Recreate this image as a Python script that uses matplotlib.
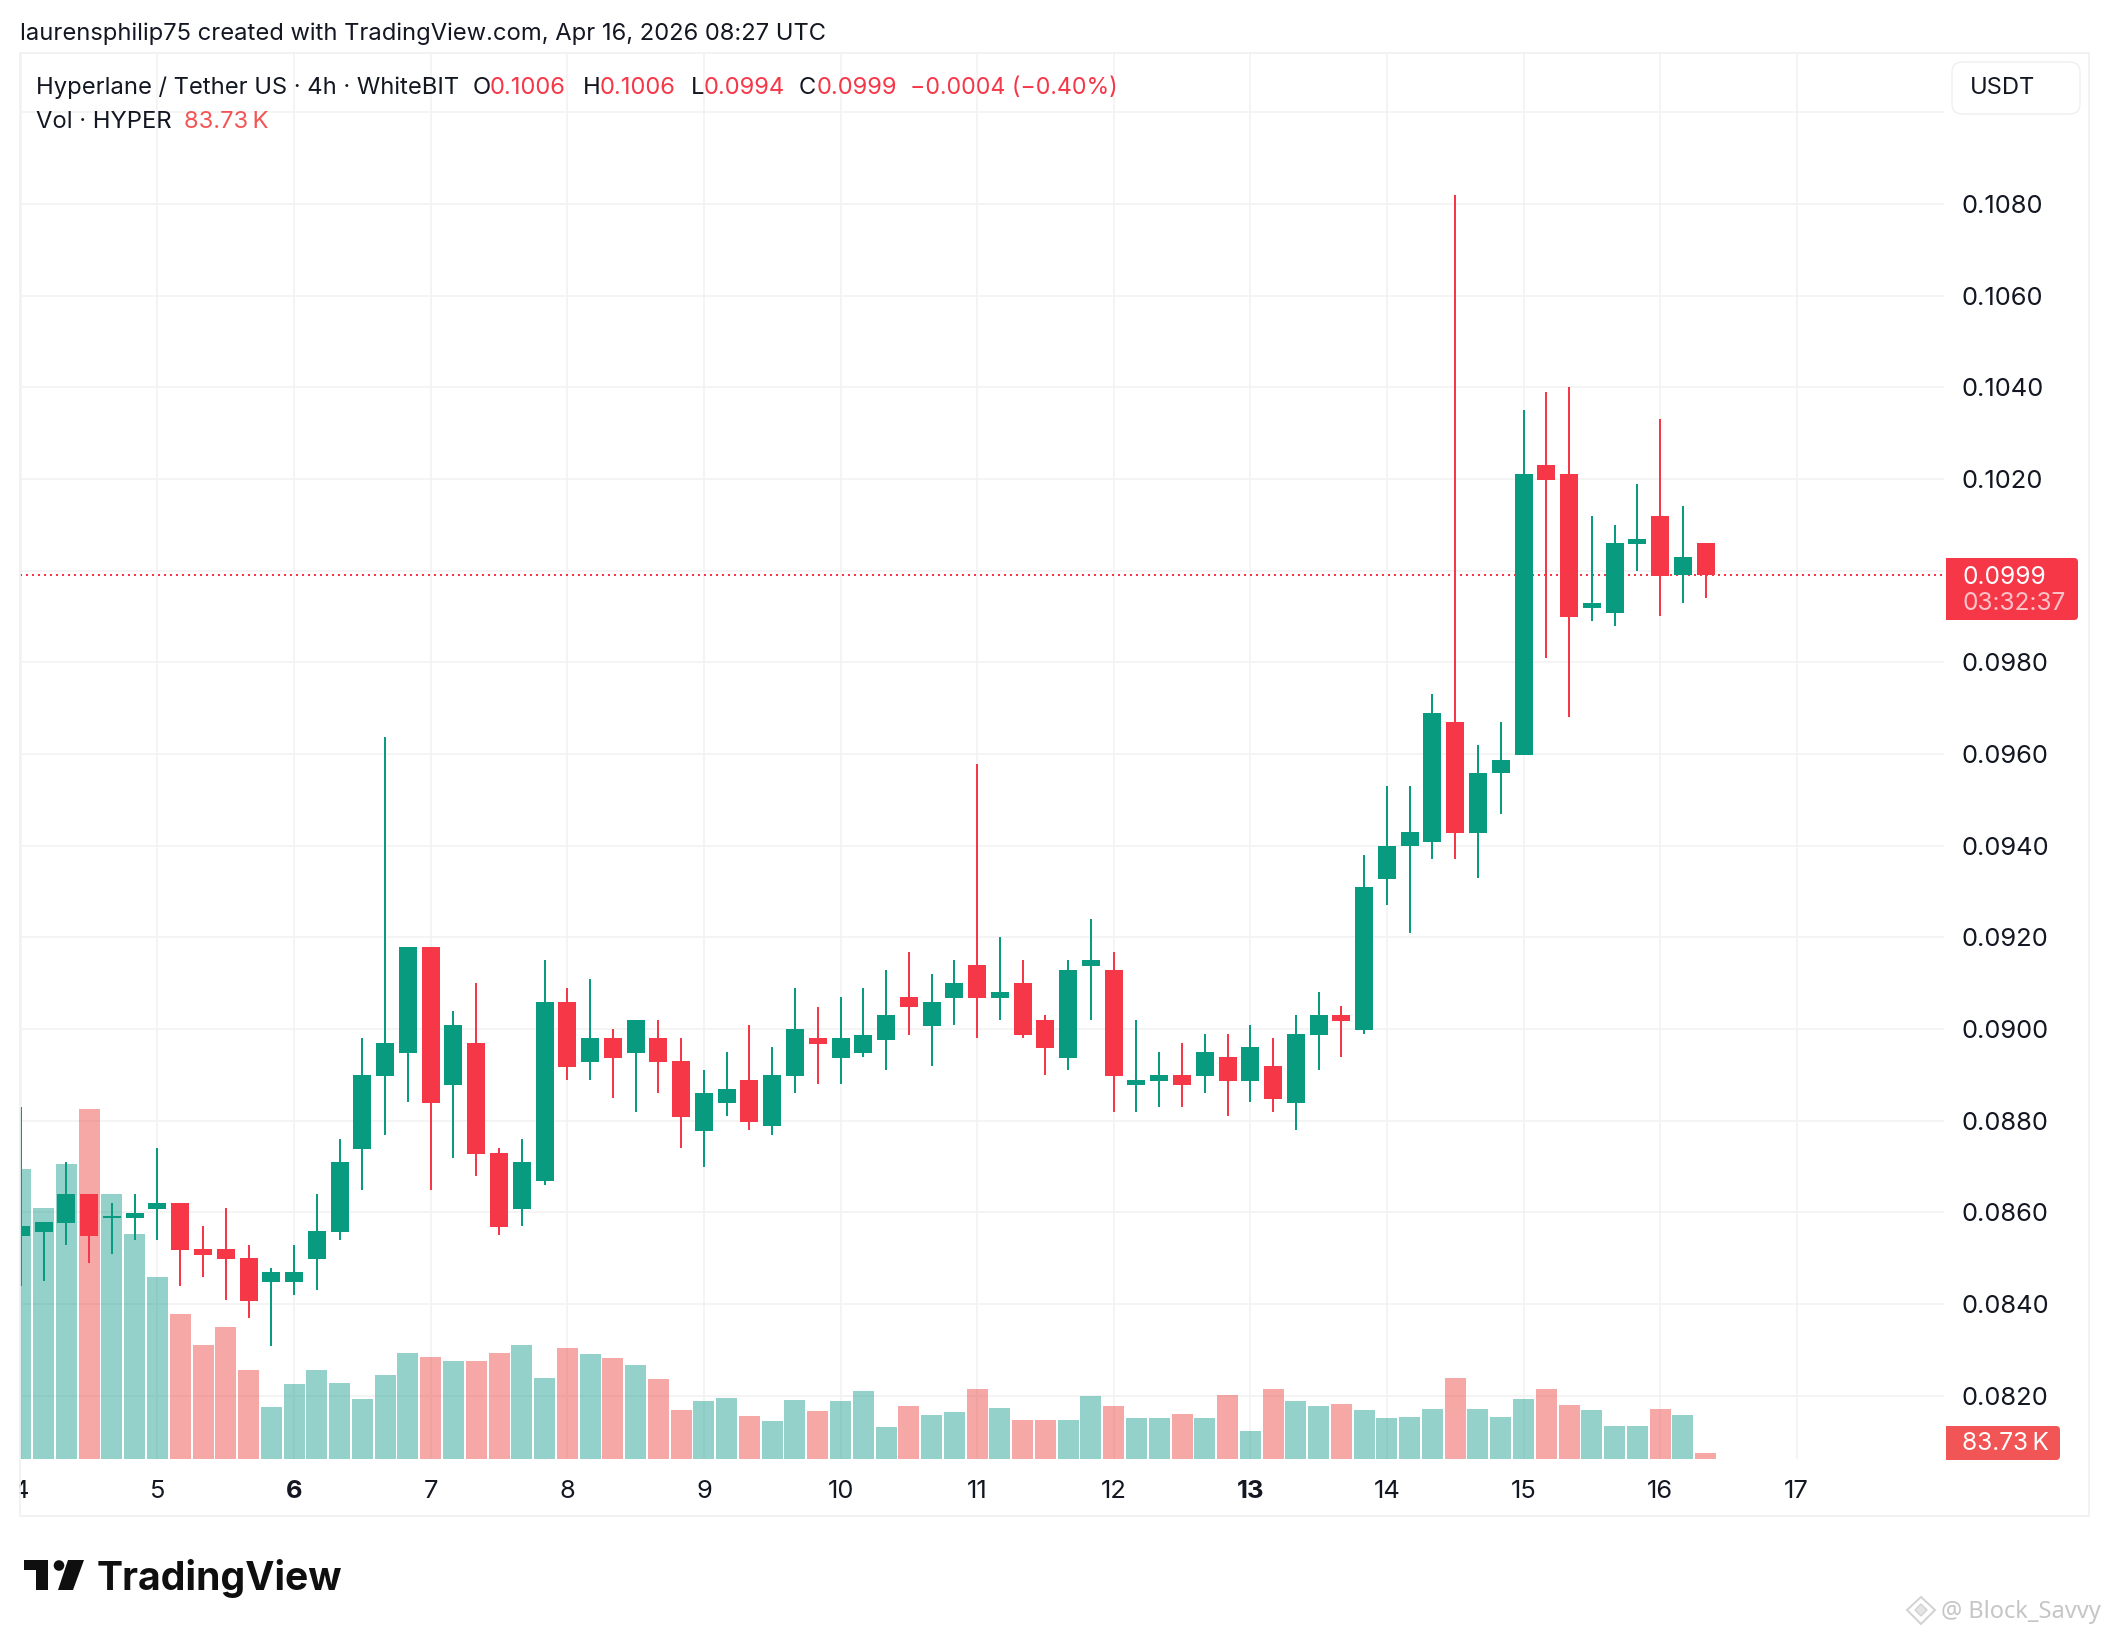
import matplotlib
matplotlib.use("Agg")
import matplotlib.pyplot as plt
from matplotlib.patches import FancyBboxPatch, Rectangle, Polygon, Circle

W, H = 2108, 1636
plt.rcParams['font.family'] = ['Inter', 'DejaVu Sans']

opens = [.08549,.08557,.08577,.0864,.08588,.08588,.08607,.0862,.0852,.0852,.0850,.08448,.08448,.08498,.08557,
         .08738,.08897,.08948,.09179,.08878,.08969,.0873,.08607,.08668,.09059,.08928,.0898,.08948,.0898,.0893,
         .08778,.08839,.08889,.08788,.08897,.0898,.08936,.08947,.08977,.09069,.09006,.09067,.09139,.09067,.0910,
         .09019,.08936,.09137,.09128,.08878,.08887,.0890,.08897,.08939,.08887,.08919,.08839,.08987,.0903,.08998,
         .09327,.0940,.09408,.09669,.09427,.09559,.09598,.1023,.10211,.09919,.09908,.10058,.10119,.0999,.1006]
highs = [.08829,.08579,.0871,.0864,.0862,.0864,.0874,.0862,.0857,.0861,.08529,.08479,.08529,.0864,.0876,
         .0898,.09638,.09179,.09179,.0904,.0910,.0874,.0876,.0915,.09089,.09109,.0900,.0902,.0902,.0898,
         .0891,.08949,.09008,.0896,.09089,.09049,.09069,.09089,.09128,.09169,.09119,.0915,.09579,.0920,.0915,
         .0903,.0915,.09239,.09169,.09019,.0895,.08969,.08989,.08989,.09009,.0898,.0903,.0908,.0905,.0938,
         .0953,.0953,.0973,.1082,.0962,.0967,.1035,.1039,.1040,.1012,.1010,.1019,.1033,.1014,.1006]
lows = [.08439,.0845,.08529,.0849,.08509,.0854,.0854,.0844,.08459,.08409,.0837,.08309,.0842,.08431,.0854,
        .08649,.08769,.08841,.08649,.08719,.0868,.0855,.0857,.0866,.08889,.08889,.0885,.08819,.0886,.0874,
        .08699,.0881,.0878,.08769,.0886,.0888,.0888,.08938,.08911,.08988,.08919,.09008,.0898,.09019,.0898,
        .0890,.0891,.09019,.08819,.08819,.0883,.0883,.0886,.0881,.08841,.08819,.0878,.08911,.08939,.08989,
        .0927,.0921,.0937,.0937,.0933,.09468,.09598,.0981,.09681,.0989,.0988,.09999,.0990,.0993,.0994]
closes = [.0857,.08579,.0864,.08549,.08592,.08599,.0862,.08518,.08507,.08498,.08407,.0847,.0847,.08559,.0871,
          .0890,.08969,.09179,.08839,.09009,.08727,.08568,.0871,.09059,.08917,.0898,.08937,.0902,.08928,.08808,
          .0886,.08869,.08797,.0890,.0900,.08967,.0898,.08988,.0903,.09047,.09058,.0910,.09067,.0908,.08986,
          .08958,.09128,.0915,.08897,.08889,.0890,.08878,.0895,.08887,.08961,.08847,.08989,.0903,.09017,.0931,
          .0940,.0943,.0969,.09427,.09559,.09587,.10211,.10198,.09899,.09929,.1006,.10069,.09988,.1003,.0999]
volumes_k = [4060,3514,4130,4900,3710,3150,2548,2030,1596,1848,1246,728,1050,1246,1064,
             840,1176,1484,1428,1372,1372,1484,1596,1134,1554,1470,1414,1316,1120,686,
             812,854,602,532,826,672,812,952,448,742,616,658,980,714,546,
             546,546,882,742,574,574,630,574,896,392,980,812,742,770,686,
             574,584,698,1131,698,584,835,979,751,683,463,463,698,615,83.73]
day_ticks = [4,5,6,7,8,9,10,11,12,13,14,15,16,17]
bold_days = [6,13]
price_ticks = [.082,.084,.086,.088,.090,.092,.094,.096,.098,.100,.102,.104,.106,.108,.110]
hidden_prices = [.100,.110]
last_close = 0.0999
BARS_PER_DAY = 6
FIRST_DAY = 4

GREEN = '#099B80'
RED = '#F53748'
VOL_GREEN = '#069686'
VOL_RED = '#EC3732'
INK = '#131722'
GRID = '#F2F2F2'

fig = plt.figure(figsize=(W/100, H/100), dpi=100, facecolor='white')
L, R, T, B = 20, 1944, 54, 1459
pos = [L/W, 1-B/H, (R-L)/W, (B-T)/H]

x_days = [FIRST_DAY + i/BARS_PER_DAY for i in range(len(opens))]
xlim = (3.9935, 18.078)
ylim = (0.08062, 0.11127)

base = fig.add_axes(pos, zorder=0)
base.set_xlim(xlim); base.set_ylim(ylim)
for s in base.spines.values():
    s.set_visible(False)
base.set_axisbelow(True)
base.grid(True, color=GRID, lw=1.15)
base.set_xticks(day_ticks)
base.set_xticklabels([str(d) for d in day_ticks], fontsize=18.4, color=INK)
for lab, d in zip(base.get_xticklabels(), day_ticks):
    if d in bold_days:
        lab.set_fontweight('bold')
base.yaxis.tick_right()
base.set_yticks(price_ticks)
base.set_yticklabels(['' if p in hidden_prices else f'{p:.4f}' for p in price_ticks], fontsize=18.4, color=INK)
base.tick_params(axis='both', length=0)
base.tick_params(axis='y', pad=12.6)
base.tick_params(axis='x', pad=15)

vol = fig.add_axes(pos, zorder=1, sharex=base)
vol.patch.set_visible(False)
vol.axis('off')
vol.set_ylim(0, 19670)
up = [c >= o for o, c in zip(opens, closes)]
vol.bar(x_days, volumes_k, width=0.1537, color=[VOL_GREEN if u else VOL_RED for u in up], alpha=0.43, linewidth=0)

cand = fig.add_axes(pos, zorder=2, sharex=base, sharey=base)
cand.patch.set_visible(False)
cand.axis('off')
cand.axhline(last_close, color=RED, lw=1.44, dashes=(1, 2), zorder=1)
colors = [GREEN if u else RED for u in up]
cand.vlines(x_days, lows, highs, colors=colors, lw=1.44, zorder=2)
cand.bar(x_days, [abs(c-o) for o, c in zip(opens, closes)], bottom=[min(o, c) for o, c in zip(opens, closes)],
         width=0.1318, color=colors, linewidth=0, zorder=3)
cand.set_xlim(xlim); cand.set_ylim(ylim)

# page furniture in pixel coordinates
over = fig.add_axes([0, 0, 1, 1], zorder=5)
over.patch.set_visible(False)
over.axis('off')
over.set_xlim(0, W); over.set_ylim(H, 0)

over.add_patch(Rectangle((0, 1465), 19, 50, fc='white', ec='none'))
over.add_patch(Rectangle((20, 53), 2069, 1463, fc='none', ec='#F1F1F1', lw=1.3))

def txt(x, y, s, color=INK, size=17.1, **kw):
    return over.text(x, y, s, color=color, fontsize=size, va='center', ha=kw.pop('ha', 'left'), **kw)

txt(20, 33.5, 'laurensphilip75 created with TradingView.com, Apr 16, 2026 08:27 UTC')
txt(36.5, 88, 'Hyperlane / Tether US · 4h · WhiteBIT')
for x, s in [(473, 'O'), (583, 'H'), (691, 'L'), (799, 'C')]:
    txt(x, 88, s)
for x, s in [(490, '0.1006'), (600, '0.1006'), (704, '0.0994'), (817, '0.0999')]:
    txt(x, 88, s, color=RED)
txt(910, 88, '−0.0004 (−0.40%)', color=RED, size=16.7)
txt(36.5, 122, 'Vol · HYPER')
txt(184, 122, '83.73\u2009K', color='#F25555')

over.add_patch(FancyBboxPatch((1958, 68), 116, 40, boxstyle='round,pad=6,rounding_size=10', fc='white', ec='#EFEFEF', lw=1.0))
txt(1970, 88.5, 'USDT')

over.add_patch(FancyBboxPatch((1946, 558), 132, 62, boxstyle='round,pad=0,rounding_size=4', fc=RED, ec='none'))
over.add_patch(Rectangle((1946, 558), 20, 62, fc=RED, ec='none'))
txt(1962, 577, '0.0999', color='white', size=17.6)
txt(1962, 604, '03:32:37', color='#FBC3C8', size=17.6)

over.add_patch(FancyBboxPatch((1946, 1426), 114, 34, boxstyle='round,pad=0,rounding_size=4', fc='#F25555', ec='none'))
over.add_patch(Rectangle((1946, 1426), 20, 34, fc='#F25555', ec='none'))
txt(1962, 1444, '83.73\u2009K', color='white', size=17.6)

# TradingView logo
LOGO = '#0F0F0F'
over.add_patch(Polygon([(24, 1560), (48, 1560), (48, 1590), (36, 1590), (36, 1570), (24, 1570)], fc=LOGO, ec='none'))
over.add_patch(Circle((59, 1565.5), 5.3, fc=LOGO, ec='none'))
over.add_patch(Polygon([(68, 1560), (84, 1560), (73, 1590), (58, 1590)], fc=LOGO, ec='none'))
over.text(97, 1590, 'TradingView', color=LOGO, fontsize=28.2, fontweight='bold', va='baseline', ha='left')

# watermark
WM = '#D2D2D2'
over.add_patch(Polygon([(1921, 1597), (1935, 1610), (1921, 1624), (1907, 1610)], fc='none', ec=WM, lw=1.4))
over.add_patch(Polygon([(1921, 1604), (1927, 1610), (1921, 1616), (1915, 1610)], fc='#E4E4E4', ec=WM, lw=1.0))
over.text(1941, 1612, '@ Block_Savvy', color='#C6C6C6', fontsize=17, va='center', ha='left', family=['Noto Sans', 'DejaVu Sans'])

fig.savefig('out.png', dpi=100, facecolor='white')
